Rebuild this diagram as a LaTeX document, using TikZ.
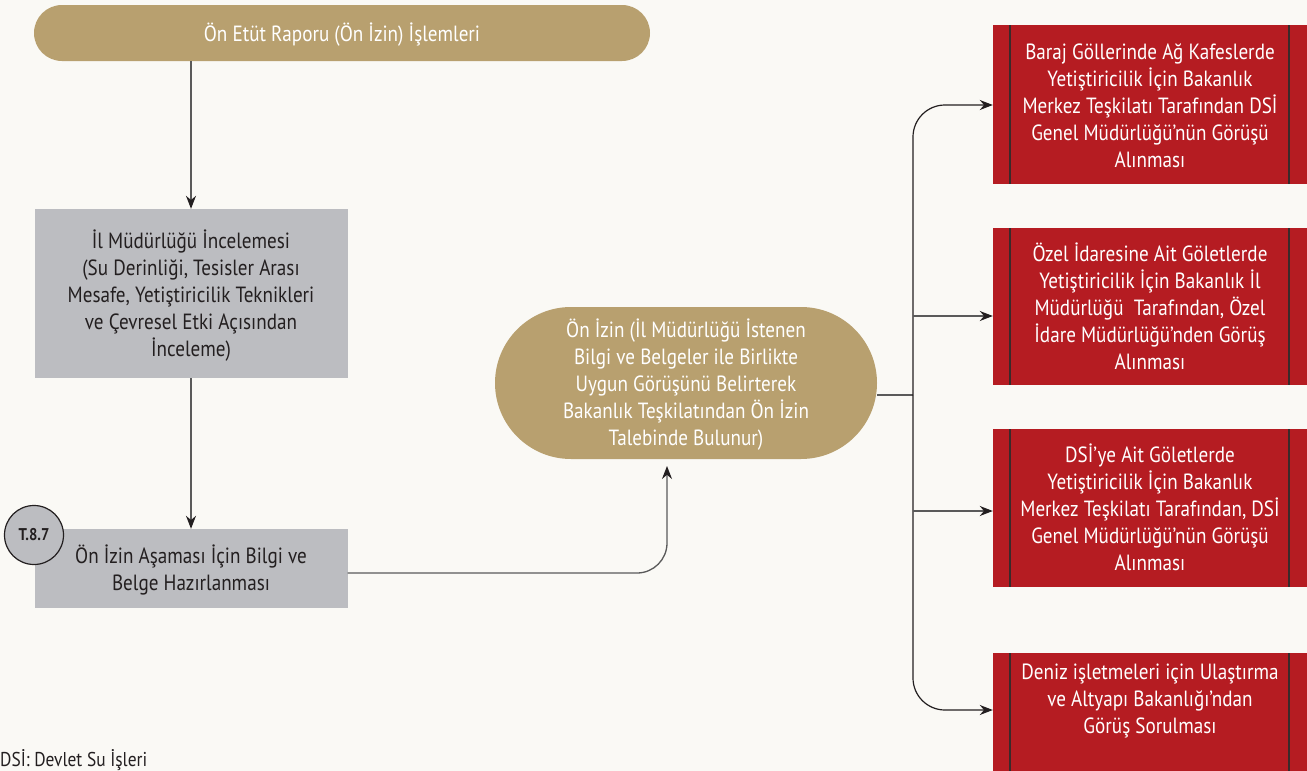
\documentclass[tikz,border=0pt]{standalone}
\usepackage{fontspec}
\setmainfont{PT Sans}[FakeStretch=0.87]
\usetikzlibrary{arrows.meta}

\definecolor{bgc}{HTML}{FAF9F5}
\definecolor{tan}{HTML}{B8A06F}
\definecolor{boxgray}{HTML}{BCBDC1}
\definecolor{redc}{HTML}{B51C22}
\definecolor{ink}{HTML}{231F20}
\definecolor{linec}{HTML}{5A5A5A}
\definecolor{edgec}{HTML}{3A2A2A}

% centred lines of text, set slightly lower inside their shape
\newcommand{\lowtext}[1]{\raisebox{-3.5pt}[\height][\depth]{\begin{tabular}{@{}c@{}}#1\end{tabular}}}

\begin{document}
\begin{tikzpicture}[x=1pt,y=-1pt,
  font=\fontsize{22}{27}\selectfont,
  every node/.style={align=center, inner sep=0pt},
  pill/.style={fill=tan, text=white},
  graybox/.style={fill=boxgray, text=ink, minimum width=313pt},
  redbox/.style={fill=redc, text=white, minimum width=314pt,
    path picture={
      \draw[edgec, line width=1.4pt]
        ([xshift=17pt]path picture bounding box.north west) --
        ([xshift=17pt]path picture bounding box.south west);
      \draw[edgec, line width=1.4pt]
        ([xshift=-18pt]path picture bounding box.north east) --
        ([xshift=-18pt]path picture bounding box.south east);
    }},
  link/.style={draw=linec, line width=1.3pt,
    -{Stealth[length=13pt,width=10pt,color=ink]}},
  trunk/.style={draw=ink, line width=1.2pt, rounded corners=32pt,
    -{Stealth[length=13pt,width=10pt,color=ink]}},
  branch/.style={draw=linec, line width=1.3pt,
    -{Stealth[length=13pt,width=10pt,color=ink]}}
]
\useasboundingbox (0,0) rectangle (1307,771);
\clip (0,0) rectangle (1307,771);
\fill[bgc] (0,0) rectangle (1307,771);

% left column
\node[pill, minimum width=616pt, minimum height=56pt, rounded corners=28pt]
  (top) at (342,33) {\lowtext{Ön Etüt Raporu (Ön İzin) İşlemleri}};

\node[graybox, minimum height=169pt] (b1) at (191,293.5)
  {\lowtext{İl Müdürlüğü İncelemesi\\(Su Derinliği, Tesisler Arası\\Mesafe, Yetiştiricilik Teknikleri\\ve Çevresel Etki Açısından\\İnceleme)}};

\node[graybox, minimum height=79pt] (b2) at (191,568.5)
  {\lowtext{Ön İzin Aşaması İçin Bilgi ve\\Belge Hazırlanması}};

\node[circle, draw=ink, line width=1.2pt, fill=boxgray, minimum size=59pt,
  font=\fontsize{17}{20}\selectfont\bfseries, text=ink] (tag) at (34,535) {T.8.7};

% middle
\node[pill, minimum width=382pt, minimum height=152pt, rounded corners=76pt]
  (ell) at (686,383) {\lowtext{Ön İzin (İl Müdürlüğü İstenen\\Bilgi ve Belgeler ile Birlikte\\Uygun Görüşünü Belirterek\\Bakanlık Teşkilatından Ön İzin\\Talebinde Bulunur)}};

% right column
\node[redbox, minimum height=159pt] (r1) at (1150,104.5)
  {\lowtext{Baraj Göllerinde Ağ Kafeslerde\\Yetiştiricilik İçin Bakanlık\\Merkez Teşkilatı Tarafından DSİ\\Genel Müdürlüğü’nün Görüşü\\Alınması}};
\node[redbox, minimum height=157pt] (r2) at (1150,306.5)
  {\lowtext{Özel İdaresine Ait Göletlerde\\Yetiştiricilik İçin Bakanlık İl\\Müdürlüğü\ \ Tarafından, Özel\\İdare Müdürlüğü’nden Görüş\\Alınması}};
\node[redbox, minimum height=158pt] (r3) at (1150,508)
  {\lowtext{DSİ’ye Ait Göletlerde\\Yetiştiricilik İçin Bakanlık\\Merkez Teşkilatı Tarafından, DSİ\\Genel Müdürlüğü’nün Görüşü\\Alınması}};
\node[redbox, minimum height=158pt, anchor=north] (r4) at (1150,653) {};
\node[text=white] (t4) at (1150,701)
  {Deniz işletmeleri için Ulaştırma\\ve Altyapı Bakanlığı’ndan\\Görüş Sorulması};

% footnote
\node[anchor=base west, text=ink, font=\fontsize{20}{24}\selectfont] (note) at (0,766)
  {DSİ: Devlet Su İşleri};

% connectors
\draw[link] (b1.north |- top.south) -- (b1.north);
\draw[link] (b1.south) -- (b2.north);
\coordinate (up) at (667,466);
\draw[link, rounded corners=30pt] (b2.east |- 0,573) -| (up);

\coordinate (j) at (913,395);
\draw[draw=linec, line width=1.3pt] (ell.east |- j) -- (j);
\draw[trunk] (j) |- (r1.west |- 0,105);
\draw[trunk] (j) |- (r4.west |- 0,710);
\draw[branch] (j |- 0,316) -- (r2.west |- 0,316);
\draw[branch] (j |- 0,511) -- (r3.west |- 0,511);
\end{tikzpicture}
\end{document}
